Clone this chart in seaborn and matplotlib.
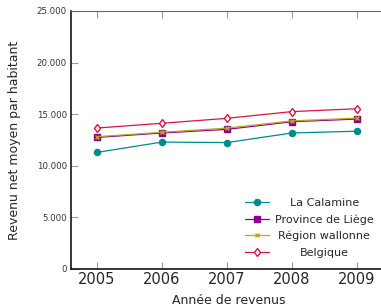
import numpy as np
import pandas as pd
import matplotlib
matplotlib.use("Agg")
import matplotlib.pyplot as plt
import seaborn as sns
from matplotlib.lines import Line2D
from matplotlib.ticker import FuncFormatter

years = [2005, 2006, 2007, 2008, 2009]
la_calamine = [11300, 12300, 12250, 13180, 13350]
province_liege = [12750, 13180, 13530, 14270, 14530]
region_wallonne = [12820, 13250, 13650, 14350, 14620]
belgique = [13660, 14120, 14600, 15250, 15530]

series_names = ["La Calamine", "Province de Liège", "Région wallonne", "Belgique"]
series_values = [la_calamine, province_liege, region_wallonne, belgique]

sns.set_style("ticks")
plt.rcParams['font.family'] = ['DejaVu Sans']

# style par série : couleur, marqueur, taille, remplissage
styles = {
    "La Calamine": dict(color="#008b8b", marker="o", markersize=4.4, markerfacecolor="#008b8b"),
    "Province de Liège": dict(color="#8b008b", marker="s", markersize=4.5, markerfacecolor="#8b008b"),
    "Région wallonne": dict(color="#b5a81f", marker="x", markersize=3.0, markerfacecolor="#b5a81f"),
    "Belgique": dict(color="#dc143c", marker="d", markersize=4.3, markerfacecolor="white"),
}

fig = plt.figure(figsize=(3.81, 3.08), dpi=100)
ax = fig.add_axes([71 / 381, 39 / 308, 315 / 381, 258 / 308])

handles = []
for name, vals in zip(series_names, series_values):
    st = styles[name]
    sns.lineplot(x=years, y=vals, ax=ax, markeredgecolor=st["color"],
                 markeredgewidth=1.0, linewidth=0.9, legend=False, **st)
    handles.append(Line2D([], [], markeredgecolor=st["color"],
                          markeredgewidth=1.0, linewidth=0.9, **st))

ax.set_xlim(2004.6, 2009.45)
ax.set_ylim(0, 25000)
ax.set_xticks(years)
ax.set_yticks([0, 5000, 10000, 15000, 20000, 25000])
ax.yaxis.set_major_formatter(FuncFormatter(lambda v, p: f"{int(v):,}".replace(",", ".")))

ax.tick_params(axis="x", direction="in", top=True, bottom=True, length=5,
               color="#999999", labelsize=10.5, pad=2)
ax.tick_params(axis="y", direction="in", left=True, right=False, length=5,
               color="#999999", labelsize=6.2, labelcolor="#333333", pad=3)

for s in ["left", "bottom"]:
    ax.spines[s].set_color("black")
    ax.spines[s].set_linewidth(1.1)
ax.spines["top"].set_visible(True)
ax.spines["top"].set_color("#666666")
ax.spines["right"].set_visible(False)

ax.set_xlabel("Année de revenus", fontsize=9, labelpad=5)
ax.set_ylabel("Revenu net moyen par habitant", fontsize=9, labelpad=11)

leg = ax.legend(handles, series_names, loc="lower right",
                bbox_to_anchor=(378 / 381, 46 / 308),
                bbox_transform=fig.transFigure, frameon=False, fontsize=8,
                handlelength=2.2, labelspacing=0.56, borderaxespad=0,
                handletextpad=0.5)

# centrer les libellés de la légende dans leur colonne
fig.canvas.draw()
renderer = fig.canvas.get_renderer()
widths = [t.get_window_extent(renderer).width for t in leg.get_texts()]
wmax = max(widths)
for t, w in zip(leg.get_texts(), widths):
    t.set_position(((wmax - w) / 2, 0))

fig.savefig("out.png", dpi=100)
